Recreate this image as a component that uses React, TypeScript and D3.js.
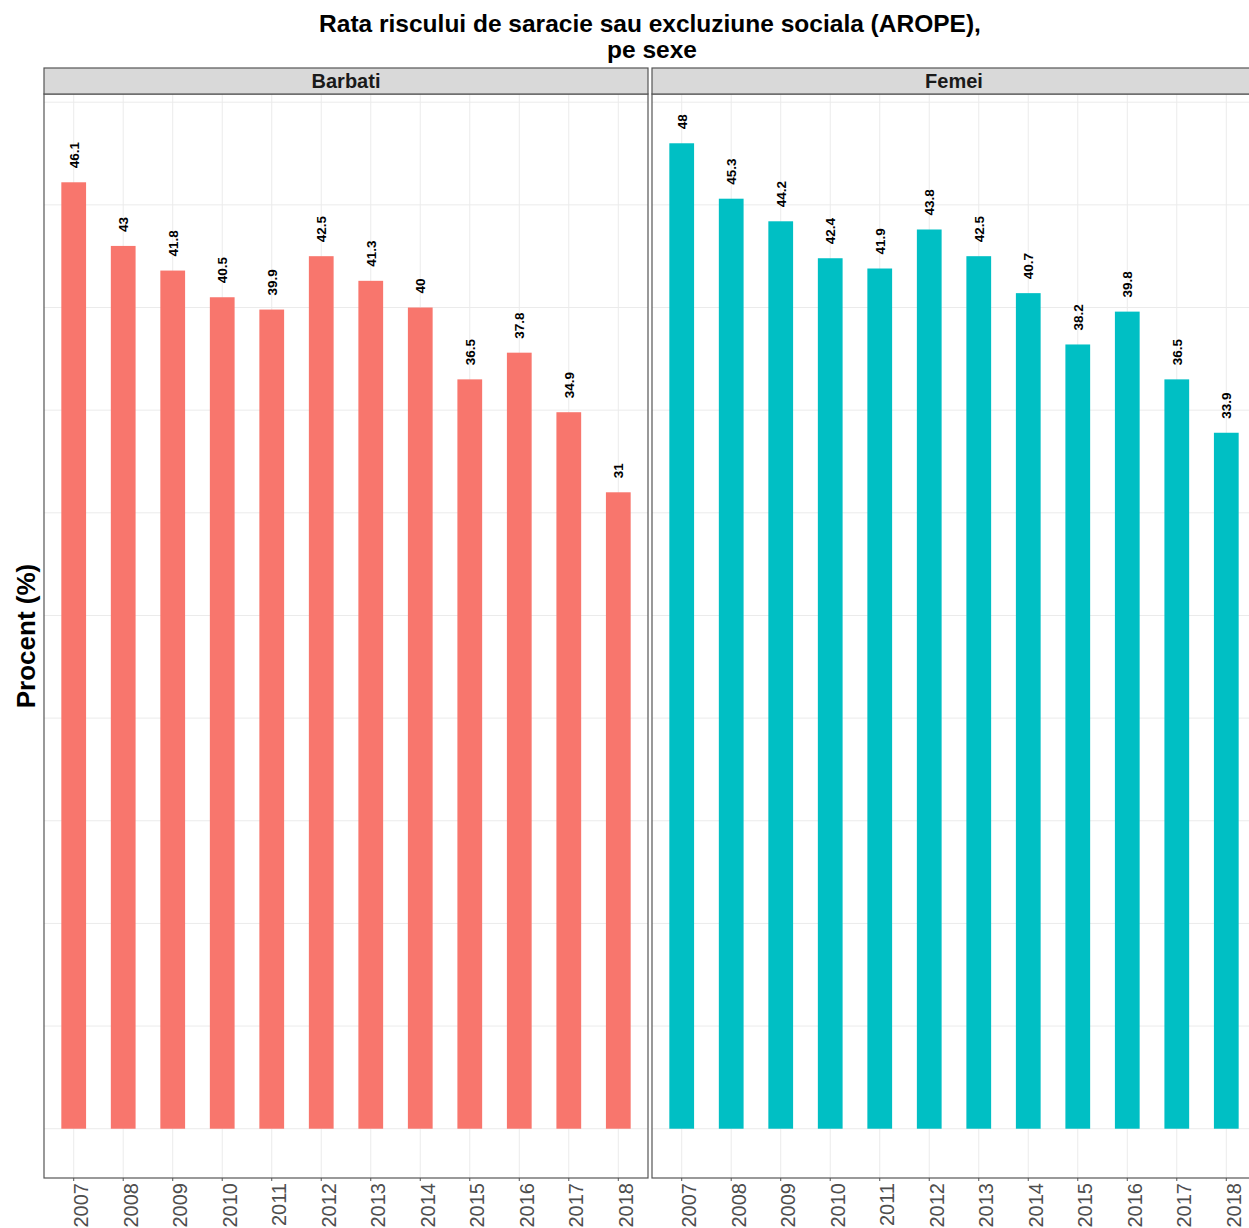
import React from "react";
import * as d3 from "d3";

const years = ["2007","2008","2009","2010","2011","2012","2013","2014","2015","2016","2017","2018"];
const barbati = [46.1, 43, 41.8, 40.5, 39.9, 42.5, 41.3, 40, 36.5, 37.8, 34.9, 31];
const femei = [48, 45.3, 44.2, 42.4, 41.9, 43.8, 42.5, 40.7, 38.2, 39.8, 36.5, 33.9];
const panels = [
  { name: "Barbati", values: barbati, color: "#F8766D" },
  { name: "Femei", values: femei, color: "#00BFC4" },
];
const yGrid = [0, 5, 10, 15, 20, 25, 30, 35, 40, 45, 50];

const W = 1249, H = 1228;
const FONT = "'Liberation Sans', Arial, Helvetica, sans-serif";

export default function App() {
  const panelTop = 94, panelBottom = 1178;
  const stripTop = 68;
  const panelW = 604;
  const panelLefts = [44, 652];
  const maxV = d3.max([...barbati, ...femei]) as number;
  const pad = maxV * 0.05;
  const y = d3.scaleLinear().domain([-pad, maxV + pad]).range([panelBottom, panelTop]);
  const unit = panelW / (years.length - 1 + 1.2);
  const barW = unit * 0.5;

  return (
    <svg width={W} height={H} style={{ position: "absolute", left: 0, top: 0, background: "#fff" }} fontFamily={FONT}>
      <rect x={0} y={0} width={W} height={H} fill="#fff" />
      <text x={650} y={32} textAnchor="middle" fontSize={24.5} fontWeight="bold" fill="#000">
        Rata riscului de saracie sau excluziune sociala (AROPE),
      </text>
      <text x={652} y={58} textAnchor="middle" fontSize={24.5} fontWeight="bold" fill="#000">
        pe sexe
      </text>
      <text transform={`translate(35,${(panelTop + panelBottom) / 2}) rotate(-90)`} textAnchor="middle" fontSize={26} fontWeight="bold" fill="#000">
        Procent (%)
      </text>
      {panels.map((p, pi) => {
        const left = panelLefts[pi];
        const x = d3.scalePoint<string>().domain(years).range([left + unit * 0.6, left + panelW - unit * 0.6]);
        return (
          <g key={p.name}>
            {yGrid.map((g) => (
              <line key={"h" + g} x1={left} x2={left + panelW} y1={y(g)} y2={y(g)} stroke="#EBEBEB" strokeWidth={1} />
            ))}
            {years.map((yr) => (
              <line key={"v" + yr} x1={x(yr)} x2={x(yr)} y1={panelTop} y2={panelBottom} stroke="#EBEBEB" strokeWidth={1} />
            ))}
            {p.values.map((v, i) => (
              <rect key={"b" + i} x={(x(years[i]) as number) - barW / 2} y={y(v)} width={barW} height={y(0) - y(v)} fill={p.color} />
            ))}
            {p.values.map((v, i) => (
              <text
                key={"l" + i}
                transform={`translate(${x(years[i])},${y(v) - 14}) rotate(-90)`}
                dy="0.36em"
                fontSize={13.5}
                fontWeight="bold"
                fill="#000"
              >
                {String(v)}
              </text>
            ))}
            <rect x={left} y={panelTop} width={panelW} height={panelBottom - panelTop} fill="none" stroke="#555" strokeWidth={1.2} />
            <rect x={left} y={stripTop} width={panelW} height={panelTop - stripTop} fill="#D9D9D9" stroke="#555" strokeWidth={1.2} />
            <text x={left + panelW / 2} y={88} textAnchor="middle" fontSize={20} fontWeight="bold" fill="#1A1A1A">
              {p.name}
            </text>
            {years.map((yr) => (
              <g key={"t" + yr}>
                <line x1={x(yr)} x2={x(yr)} y1={panelBottom} y2={panelBottom + 3} stroke="#555" strokeWidth={1} />
                <text
                  transform={`translate(${x(yr)},${panelBottom + 5}) rotate(-90)`}
                  dy="0.72em"
                  textAnchor="end"
                  fontSize={20}
                  fill="#4D4D4D"
                >
                  {yr}
                </text>
              </g>
            ))}
          </g>
        );
      })}
    </svg>
  );
}
